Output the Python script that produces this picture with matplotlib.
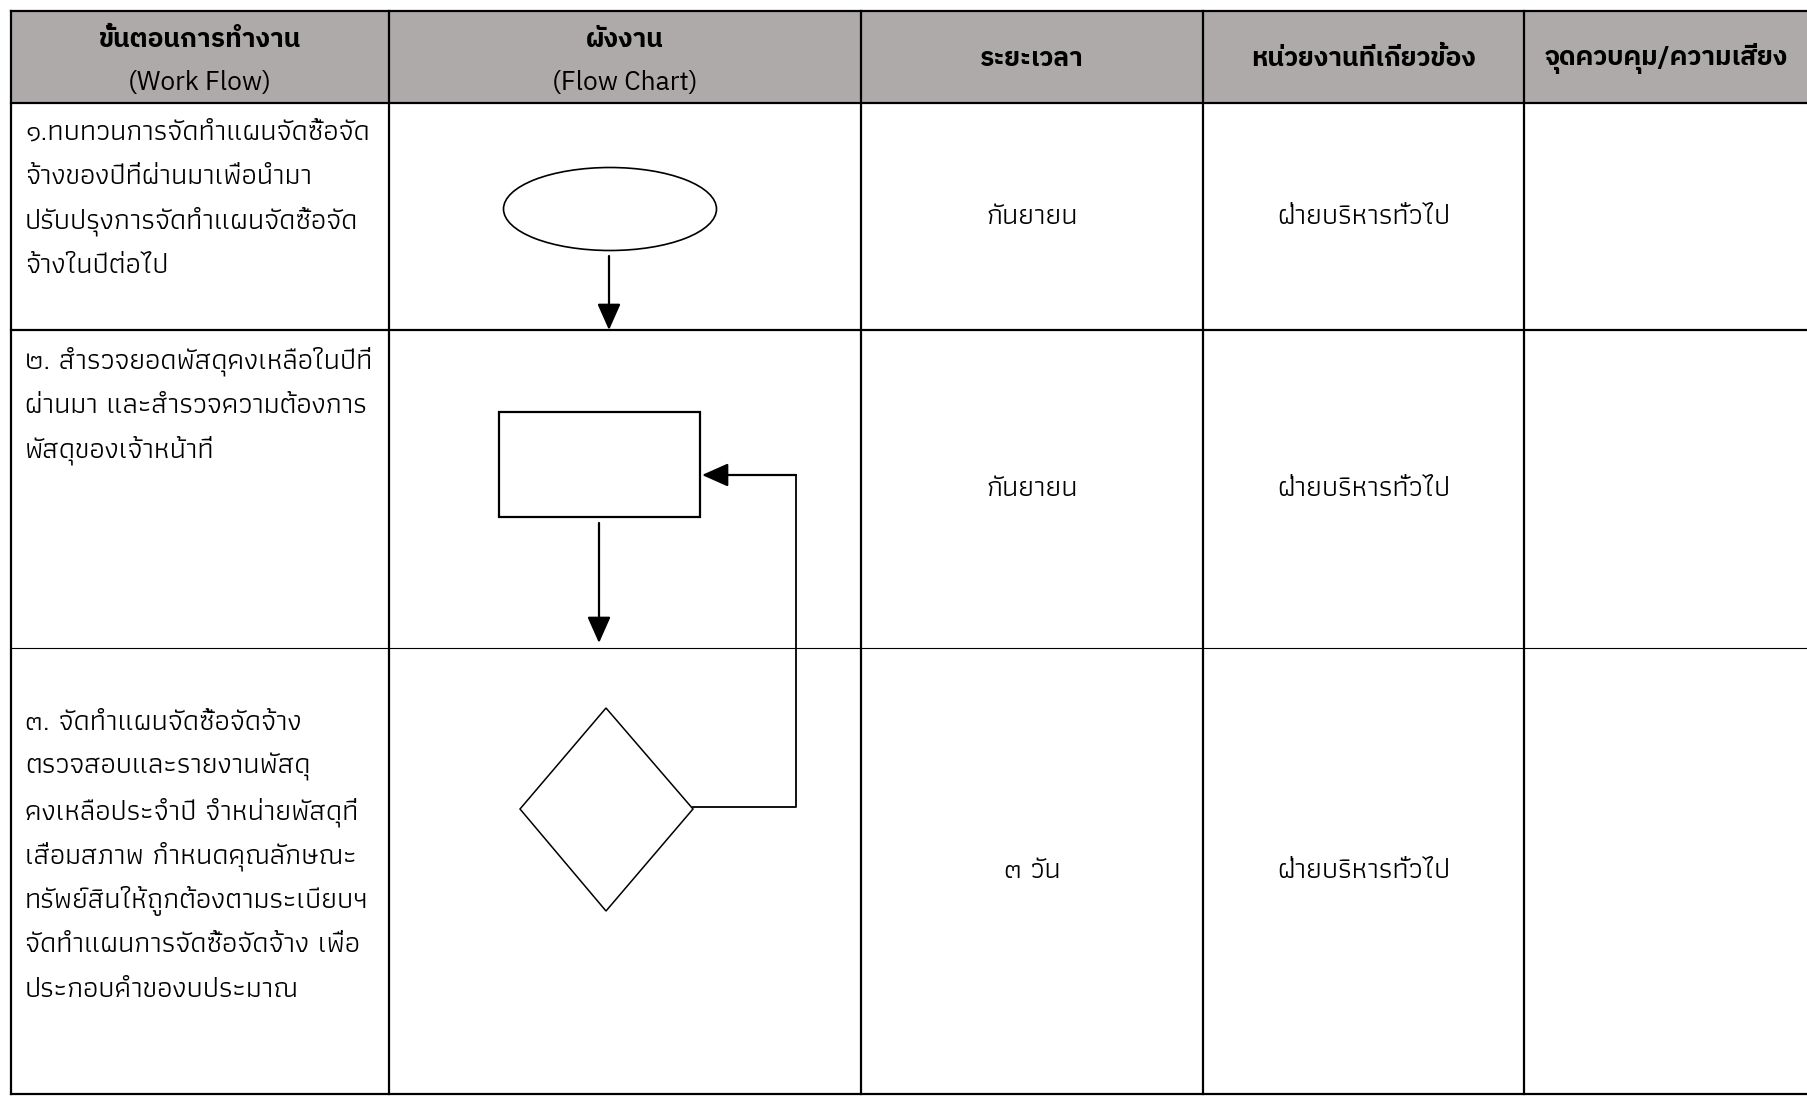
import matplotlib
matplotlib.use("Agg")
import matplotlib.pyplot as plt
from matplotlib.patches import Rectangle, Ellipse, Polygon

W, H = 1808, 1096
HEAD_FONT = ["IBM Plex Sans Thai", "DejaVu Sans"]
BODY_FONT = ["Athiti", "DejaVu Sans"]
HEAD_GREY = "#aeaaaa"
HEAD_SIZE = 19
BODY_SIZE = 21

# table content
header_th = ["ขั้นตอนการทำงาน", "ผังงาน", "ระยะเวลา", "หน่วยงานที่เกี่ยวข้อง", "จุดควบคุม/ความเสี่ยง"]
header_en = ["(Work Flow)", "(Flow Chart)", "", "", ""]
steps = [
    ["๑.ทบทวนการจัดทำแผนจัดซื้อจัด", "จ้างของปีที่ผ่านมาเพื่อนำมา",
     "ปรับปรุงการจัดทำแผนจัดซื้อจัด", "จ้างในปีต่อไป"],
    ["๒. สำรวจยอดพัสดุคงเหลือในปีที่", "ผ่านมา และสำรวจความต้องการ",
     "พัสดุของเจ้าหน้าที่"],
    ["๓. จัดทำแผนจัดซื้อจัดจ้าง", "ตรวจสอบและรายงานพัสดุ",
     "คงเหลือประจำปี จำหน่ายพัสดุที่", "เสื่อมสภาพ กำหนดคุณลักษณะ",
     "ทรัพย์สินให้ถูกต้องตามระเบียบฯ", "จัดทำแผนการจัดซื้อจัดจ้าง เพื่อ",
     "ประกอบคำของบประมาณ"],
]
durations = ["กันยายน", "กันยายน", "๓ วัน"]
units = ["ฝ่ายบริหารทั่วไป", "ฝ่ายบริหารทั่วไป", "ฝ่ายบริหารทั่วไป"]
controls = ["", "", ""]

# layout (pixels)
col_x = [11, 389, 861, 1203, 1524, 1808]
row_y = [11, 103, 330, 648, 1094]
first_line_y = [132, 361, 723]
line_gap = 44.4


def draw_table(ax):
    ax.add_patch(Rectangle((col_x[0], row_y[0]), col_x[-1] - col_x[0], row_y[1] - row_y[0],
                           facecolor=HEAD_GREY, edgecolor="none", zorder=0))
    for x in col_x[:-1]:
        ax.plot([x, x], [row_y[0], row_y[-1]], color="black", lw=1.6, zorder=2)
    for i, y in enumerate(row_y):
        lw = 0.8 if i == 3 else 1.6
        ax.plot([col_x[0], col_x[-1]], [y, y], color="black", lw=lw, zorder=2)

    for i in range(5):
        cx = (col_x[i] + col_x[i + 1]) / 2
        if header_en[i]:
            ax.text(cx, 40, header_th[i], ha="center", va="center", fontsize=HEAD_SIZE,
                    fontweight="bold", family=HEAD_FONT)
            ax.text(cx, 82, header_en[i], ha="center", va="center", fontsize=HEAD_SIZE,
                    family=HEAD_FONT)
        else:
            ax.text(cx, 59, header_th[i], ha="center", va="center", fontsize=HEAD_SIZE,
                    fontweight="bold", family=HEAD_FONT)

    for r in range(3):
        for k, line in enumerate(steps[r]):
            ax.text(25, first_line_y[r] + k * line_gap, line, ha="left", va="center",
                    fontsize=BODY_SIZE, family=BODY_FONT)
        cy = (row_y[r + 1] + row_y[r + 2]) / 2
        ax.text((col_x[2] + col_x[3]) / 2, cy, durations[r], ha="center", va="center",
                fontsize=BODY_SIZE, family=BODY_FONT)
        ax.text((col_x[3] + col_x[4]) / 2, cy, units[r], ha="center", va="center",
                fontsize=BODY_SIZE, family=BODY_FONT)
        ax.text((col_x[4] + col_x[5]) / 2, cy, controls[r], ha="center", va="center",
                fontsize=BODY_SIZE, family=BODY_FONT)


def arrow(ax, x0, y0, x1, y1):
    ax.annotate("", xy=(x1, y1), xytext=(x0, y0),
                arrowprops=dict(arrowstyle="-|>,head_length=0.9,head_width=0.4",
                                color="black", lw=1.6, shrinkA=0, shrinkB=0,
                                mutation_scale=18), zorder=3)


def draw_flow(ax):
    ax.add_patch(Ellipse((610, 209), 213, 83, facecolor="white", edgecolor="black",
                         lw=1.2, zorder=3))
    arrow(ax, 609, 256, 609, 330)

    ax.add_patch(Rectangle((499, 412), 201, 105, facecolor="white", edgecolor="black",
                           lw=1.6, zorder=3))
    arrow(ax, 599, 523, 599, 643)

    ax.add_patch(Polygon([(606, 708), (693, 809), (606, 911), (520, 809)], closed=True,
                         facecolor="white", edgecolor="black", lw=1.1, zorder=3))
    ax.plot([693, 796, 796], [807, 807, 475], color="black", lw=1.3, zorder=3)
    arrow(ax, 796, 475, 702, 475)


fig = plt.figure(figsize=(W / 100, H / 100), dpi=100)
ax = fig.add_axes([0, 0, 1, 1])
ax.set_xlim(0, W)
ax.set_ylim(H, 0)
ax.axis("off")

draw_table(ax)
draw_flow(ax)

fig.savefig("out.png", dpi=100, facecolor="white")
